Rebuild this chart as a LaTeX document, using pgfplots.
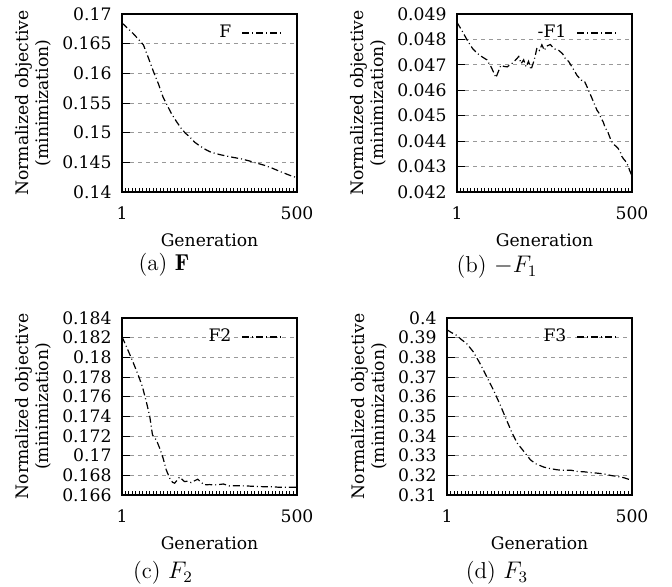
\documentclass[border=0pt]{standalone}
\usepackage{fontspec}
\usepackage{pgfplots}
\pgfplotsset{compat=1.18}
\newfontfamily\dv{DejaVu Serif}

\pgfplotsset{
  gp/.style={
    scale only axis, width=87.5pt, height=89pt,
    xmin=1, xmax=500, xtick={1,500}, xticklabels={1,500},
    minor xtick={10,20,...,490},
    scaled y ticks=false,
    tick pos=left, tick align=inside,
    major tick length=4pt, minor tick length=2pt,
    every tick/.style={black, line width=0.5pt},
    axis line style={black, line width=0.8pt},
    ymajorgrids,
    major grid style={gray!80, dash pattern=on 2pt off 2pt, line width=0.5pt},
    tick label style={font=\dv\fontsize{8.6}{10}\selectfont},
    label style={font=\dv\fontsize{8.6}{10}\selectfont},
    xlabel={Generation},
    ylabel={Normalized objective\\(minimization)},
    ylabel style={align=center},
    ylabel shift=-1.5pt,
    xlabel style={at={(axis description cs:0.5,0)}, anchor=center, yshift=-24pt},
    xticklabel style={yshift=-3.7pt},
    yticklabel style={xshift=-1.7pt},
    legend plot pos=right,
    legend style={draw=none, fill=none, at={(axis description cs:1,1)},
                  anchor=east, xshift=-6pt, yshift=-9.5pt, inner sep=0pt,
                  font=\dv\fontsize{8.6}{10}\selectfont,
                  /tikz/column sep=3pt},
    legend image code/.code={\draw[#1] (0pt,0pt) -- (21pt,0pt);},
  },
  dd/.style={black, line width=0.6pt, mark=none,
             dash pattern=on 3.5pt off 1.5pt on 0.5pt off 1.5pt},
}

\begin{document}
\begin{tikzpicture}
\path[use as bounding box] (0,0) rectangle (336pt,293pt);

% (a) F
\begin{axis}[gp, at={(61pt,197pt)}, anchor=south west,
    ymin=0.14, ymax=0.17,
    ytick={0.14,0.145,0.15,0.155,0.16,0.165,0.17},
    yticklabels={0.14,0.145,0.15,0.155,0.16,0.165,0.17}]
  \addplot[dd] coordinates {
    (1,0.1685) (15,0.1677) (33,0.1667) (50,0.1656) (62,0.1648) (75,0.1628)
    (91,0.16025) (105,0.1582) (118,0.1560) (130,0.1546) (142,0.1532)
    (156,0.1519) (170,0.1507) (182,0.1499) (194,0.1493) (208,0.1484)
    (222,0.1478) (241,0.1471) (255,0.1467) (280,0.1463) (312,0.1459)
    (340,0.1456) (360,0.1453) (378,0.1450) (407,0.1445) (430,0.1440)
    (454,0.1434) (480,0.1428) (500,0.1424)};
  \addlegendentry{F}
\end{axis}

% (b) -F1
\begin{axis}[gp, at={(228.5pt,197pt)}, anchor=south west,
    ymin=0.042, ymax=0.049,
    ytick={0.042,0.043,0.044,0.045,0.046,0.047,0.048,0.049},
    yticklabels={0.042,0.043,0.044,0.045,0.046,0.047,0.048,0.049}]
  \addplot[dd] coordinates {
    (1,0.04867) (15,0.04835) (29,0.0480) (45,0.04765) (58,0.04746)
    (72,0.04732) (86,0.04720) (99,0.0469) (112,0.04650) (126,0.04698)
    (135,0.04694) (144,0.04692) (152,0.04700) (161,0.04709) (170,0.04722)
    (177,0.04733) (184,0.04705) (191,0.04720) (198,0.04692) (205,0.04714)
    (212,0.04681) (221,0.04718) (229,0.04767) (236,0.04757) (243,0.04779)
    (250,0.04757) (257,0.04774) (267,0.0478) (278,0.04763) (291,0.04757)
    (302,0.04744) (310,0.04724) (319,0.04714) (332,0.04685) (343,0.04659)
    (355,0.0464) (364,0.04637) (372,0.04613) (386,0.04568) (400,0.04522)
    (406,0.04510) (412,0.0449) (418,0.04475) (424,0.04451) (430,0.04440)
    (436,0.04418) (441,0.04400) (446,0.04392) (450,0.04385) (455,0.04379)
    (460,0.04372) (466,0.0436) (471,0.04340) (476,0.0433) (481,0.04322)
    (486,0.0431) (490,0.0430) (493,0.04285) (495,0.0428) (498,0.04268)
    (500,0.04255)};
  \addlegendentry{-F1}
\end{axis}

% (c) F2
\begin{axis}[gp, at={(61pt,45.5pt)}, anchor=south west, height=88.5pt,
    ymin=0.166, ymax=0.184,
    ytick={0.166,0.168,0.17,0.172,0.174,0.176,0.178,0.18,0.182,0.184},
    yticklabels={0.166,0.168,0.17,0.172,0.174,0.176,0.178,0.18,0.182,0.184}]
  \addplot[dd] coordinates {
    (1,0.1821) (18,0.18073) (32,0.17955) (47,0.17821) (59,0.17704)
    (70,0.17553) (80,0.17403) (88,0.17210) (94,0.1718) (99,0.1716)
    (108,0.1708) (118,0.16977) (127,0.16857) (137,0.16771) (145,0.1673)
    (151,0.1672) (158,0.16750) (165,0.16782) (172,0.1676) (179,0.16737)
    (188,0.1674) (198,0.16726) (208,0.16745) (217,0.16761) (226,0.16730)
    (236,0.16703) (250,0.16706) (270,0.16703) (290,0.16712) (308,0.16692)
    (330,0.16695) (355,0.16692) (380,0.16688) (402,0.16685) (425,0.16684)
    (450,0.16679) (475,0.16679) (500,0.16678)};
  \addlegendentry{F2}
\end{axis}

% (d) F3
\begin{axis}[gp, at={(223.5pt,45.5pt)}, anchor=south west,
    width=92.5pt, height=88.5pt,
    ymin=0.31, ymax=0.40,
    ytick={0.31,0.32,0.33,0.34,0.35,0.36,0.37,0.38,0.39,0.40},
    yticklabels={0.31,0.32,0.33,0.34,0.35,0.36,0.37,0.38,0.39,0.4}]
  \addplot[dd] coordinates {
    (1,0.3940) (14,0.3925) (27,0.3912) (40,0.3890) (54,0.3870) (72,0.3828)
    (90,0.3769) (108,0.3702) (126,0.3635) (144,0.3560) (163,0.3475)
    (176,0.3418) (190,0.3365) (208,0.3322) (226,0.3279) (240,0.3259)
    (262,0.3242) (280,0.3234) (299,0.3228) (317,0.3226) (335,0.3226)
    (353,0.3220) (371,0.3218) (389,0.3214) (407,0.3211) (425,0.3207)
    (444,0.3199) (458,0.3195) (471,0.3191) (480,0.3187) (489,0.3181)
    (495,0.3179) (500,0.3176)};
  \addlegendentry{F3}
\end{axis}

% sub-captions
\begin{scope}[every node/.style={font=\fontsize{11.5}{13}\selectfont}]
\node at (82pt,160.5pt) {(a) $\mathbf{F}$};
\node at (248.5pt,159.5pt) {(b) $-F_1$};
\node at (81.5pt,6.5pt) {(c) $F_2$};
\node at (248.5pt,6.5pt) {(d) $F_3$};
\end{scope}
\end{tikzpicture}
\end{document}
